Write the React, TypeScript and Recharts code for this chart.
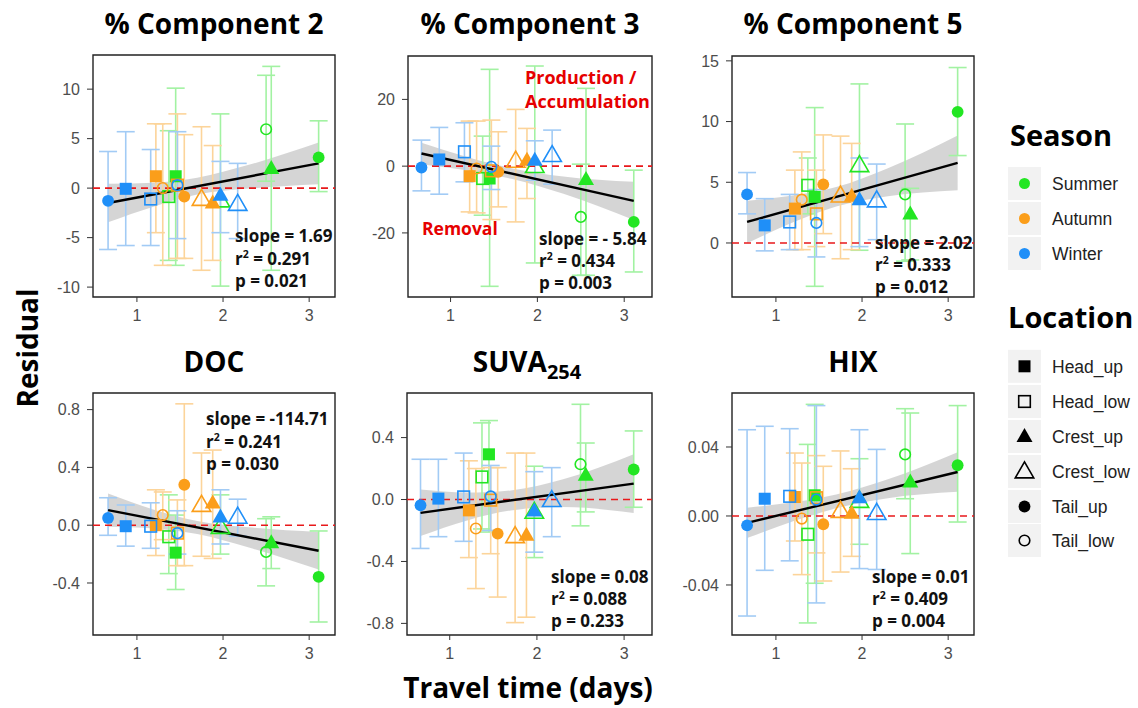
import React from 'react';
import { ComposedChart, Scatter, XAxis, YAxis, ErrorBar, ReferenceLine, ReferenceArea, Area, Line } from 'recharts';

// ---------- categories ----------
const seasons = ['Summer', 'Autumn', 'Winter'];
const locations = ['Head_up', 'Head_low', 'Crest_up', 'Crest_low', 'Tail_up', 'Tail_low'];

// order: Summer (Head_up, Head_low, Crest_up, Crest_low, Tail_up, Tail_low), Autumn (...), Winter (...)
const travelTime = [1.45, 1.37, 2.56, 1.97, 3.11, 2.5, 1.22, 1.47, 1.88, 1.75, 1.55, 1.3, 0.87, 1.16, 1.97, 2.17, 0.665, 1.47];

// ---------- % Component 2 ----------
const comp2Mean = [1.2, -0.85, 2.0, -1.25, 3.1, 5.95, 1.2, 0.3, -1.5, -1.1, -0.85, 0.0, -0.07, -1.1, -0.7, -1.6, -1.28, 0.3];
const comp2Low = [-7.8, -7.3, -8.3, -9.9, -0.35, 0.7, -4.5, -7.1, -7.3, -8.3, -7.1, -7.8, -5.8, -5.8, -4.5, -5.1, -6.2, -5.1];
const comp2High = [10.1, 5.8, 12.3, 7.5, 6.8, 11.4, 6.5, 7.5, 4.3, 6.2, 5.4, 6.5, 5.7, 3.9, 2.7, 2.5, 3.7, 5.7];
const comp2Fit = [-1.5, 2.5];
const comp2BandLo = [-3.45, -1.85, -0.65, -0.05, 0.4];
const comp2BandHi = [0.45, 0.55, 1.05, 2.35, 4.6];

// ---------- % Component 3 ----------
const comp3Mean = [-3.7, -3.7, -4.0, 0, -16.7, -15.2, -3.0, -1.4, 1.8, 1.6, -1.7, -0.7, 2.0, 4.3, 1.8, 3.3, -0.4, -0.2];
const comp3Low = [-36, -14.7, -32.7, -29, -31.7, -32.7, -13.7, -16, -9.7, -16.7, -12.2, -14, -8.4, -4.7, -4.2, -5.4, -7.4, -7];
const comp3High = [29, 9, 23.3, 30, -1.2, 0.6, 13.5, 13.8, 11.3, 17, 10.3, 13.5, 11.6, 13, 7.6, 10.8, 7.8, 6];
const comp3Fit = [3.8, -10.4];
const comp3BandLo = [0.6, -1.3, -3.8, -8.3, -16.1];
const comp3BandHi = [7.0, 2.7, -0.6, -3.1, -4.7];

// ---------- % Component 5 ----------
const comp5Mean = [3.8, 4.75, 2.4, 6.4, 10.8, 4.0, 2.83, 2.4, 3.85, 3.9, 4.83, 3.57, 1.45, 1.73, 3.57, 3.5, 4.0, 1.65];
const comp5Low = [-3.57, 2.4, -1.4, -0.6, 7.2, -1.5, -0.55, -0.3, -0.55, -1.3, 0.77, -0.55, -0.65, -0.55, -0.3, 0.27, 2.4, -1.15];
const comp5High = [11.15, 7.0, 4.5, 13.1, 14.45, 9.8, 6.0, 6.0, 8.2, 8.8, 8.9, 7.5, 3.65, 4.0, 7.0, 6.5, 5.8, 4.4];
const comp5Fit = [1.73, 6.6];
const comp5BandLo = [-0.02, 1.7, 3.0, 3.85, 4.35];
const comp5BandHi = [3.48, 3.9, 4.6, 6.15, 8.85];

// ---------- DOC ----------
const docMean = [-0.19, -0.08, -0.12, -0.012, -0.357, -0.185, 0.0, -0.055, 0.155, 0.14, 0.28, 0.07, -0.007, -0.007, 0.058, 0.058, 0.05, -0.055];
const docLow = [-0.445, -0.335, -0.3, -0.2, -0.67, -0.42, -0.21, -0.28, -0.23, -0.215, -0.28, -0.1, -0.145, -0.16, -0.13, -0.075, -0.07, -0.2];
const docHigh = [0.07, 0.21, 0.058, 0.21, -0.04, 0.045, 0.245, 0.175, 0.52, 0.5, 0.84, 0.23, 0.14, 0.155, 0.245, 0.18, 0.19, 0.1];
const docFit = [0.104, -0.177];
const docBandLo = [-0.011, -0.023, -0.061, -0.155, -0.307];
const docBandHi = [0.219, 0.107, 0.029, -0.015, -0.047];

// ---------- SUVA254 ----------
const suvaMean = [0.292, 0.146, 0.157, -0.08, 0.194, 0.228, -0.07, -0.004, -0.23, -0.237, -0.22, -0.187, 0.006, 0.017, -0.073, -0.004, -0.037, 0.02];
const suvaLow = [-0.21, -0.19, -0.08, -0.375, -0.05, -0.17, -0.375, -0.35, -0.76, -0.795, -0.63, -0.575, -0.24, -0.27, -0.34, -0.24, -0.316, -0.2];
const suvaHigh = [0.51, 0.495, 0.365, 0.215, 0.443, 0.615, 0.25, 0.206, 0.3, 0.3, 0.206, 0.2, 0.26, 0.3, 0.18, 0.206, 0.26, 0.22];
const suvaFit = [-0.086, 0.103];
const suvaBandLo = [-0.236, -0.135, -0.071, -0.049, -0.087];
const suvaBandHi = [0.064, 0.045, 0.059, 0.131, 0.293];

// ---------- HIX ----------
const hixMean = [0.012, -0.0106, 0.0197, 0.0087, 0.0294, 0.0357, 0.011, 0.0106, 0.0017, 0.0029, -0.0048, -0.0015, 0.01, 0.0114, 0.0106, 0.0017, -0.0054, 0.0095];
const hixLow = [-0.039, -0.062, -0.0218, -0.0164, -0.0035, 0.01, -0.0145, -0.0214, -0.0234, -0.0325, -0.0377, -0.034, -0.0315, -0.026, -0.0305, -0.031, -0.058, -0.0504];
const hixHigh = [0.0647, 0.0415, 0.0597, 0.0332, 0.064, 0.0622, 0.0365, 0.035, 0.0274, 0.0377, 0.0288, 0.0307, 0.052, 0.0506, 0.05, 0.0386, 0.05, 0.064];
const hixFit = [-0.004, 0.0255];
const hixBandLo = [-0.0128, -0.0031, 0.0045, 0.0103, 0.014];
const hixBandHi = [0.0048, 0.0079, 0.0125, 0.0213, 0.037];

// shared fit x positions
const fitLineX = [0.665, 3.11];
const fitBandX = [0.665, 1.2, 1.7, 2.3, 3.11];

// tick labels
const xTicks = [1, 2, 3];
const comp2Ticks = [-10, -5, 0, 5, 10];
const comp2TickLabels = ['-10', '-5', '0', '5', '10'];
const comp3Ticks = [-20, 0, 20];
const comp3TickLabels = ['-20', '0', '20'];
const comp5Ticks = [0, 5, 10, 15];
const comp5TickLabels = ['0', '5', '10', '15'];
const docTicks = [-0.4, 0, 0.4, 0.8];
const docTickLabels = ['-0.4', '0.0', '0.4', '0.8'];
const suvaTicks = [-0.8, -0.4, 0, 0.4];
const suvaTickLabels = ['-0.8', '-0.4', '0.0', '0.4'];
const hixTicks = [-0.04, 0, 0.04];
const hixTickLabels = ['-0.04', '0.00', '0.04'];

// statistics text
const comp2Stats = ['1.69', '0.291', '0.021'];
const comp3Stats = ['- 5.84', '0.434', '0.003'];
const comp5Stats = ['2.02', '0.333', '0.012'];
const docStats = ['-114.71', '0.241', '0.030'];
const suvaStats = ['0.08', '0.088', '0.233'];
const hixStats = ['0.01', '0.409', '0.004'];

const seasonColors: Record<string, string> = { Summer: '#22e622', Autumn: '#fb9e1a', Winter: '#1f8ff8' };
const errorColors: Record<string, string> = { Summer: '#a2f2a2', Autumn: '#fcd49a', Winter: '#a2cbf5' };

const FONT_BOLD = "'Open Sans', 'DejaVu Sans', sans-serif";
const FONT_TICK = "'Liberation Sans', Arial, sans-serif";

const YW = 60;
const XH = 32;
const PAD = 2;

function Marker({ cx, cy, loc, color }: { cx?: number; cy?: number; loc: string; color: string }) {
  if (cx == null || cy == null || isNaN(cx) || isNaN(cy)) return <g />;
  const filled = loc.endsWith('_up');
  if (loc.startsWith('Head')) {
    if (filled) return <rect x={cx - 6} y={cy - 6} width={12} height={12} fill={color} />;
    return <rect x={cx - 5.8} y={cy - 5.8} width={11.6} height={11.6} fill="none" stroke={color} strokeWidth={1.6} />;
  }
  if (loc.startsWith('Crest')) {
    const w = filled ? 16 : 18.5;
    const h = filled ? 14 : 16;
    const pts = `${cx},${cy - h * 0.6} ${cx - w / 2},${cy + h * 0.4} ${cx + w / 2},${cy + h * 0.4}`;
    if (filled) return <polygon points={pts} fill={color} />;
    return <polygon points={pts} fill="none" stroke={color} strokeWidth={1.6} strokeLinejoin="miter" />;
  }
  if (filled) return <circle cx={cx} cy={cy} r={5.9} fill={color} />;
  return <circle cx={cx} cy={cy} r={5.3} fill="none" stroke={color} strokeWidth={1.6} />;
}

type PanelCfg = {
  key: string;
  frame: { x: number; y: number; w: number; h: number };
  xDomain: [number, number];
  yDomain: [number, number];
  yTicks: number[];
  yLabels: string[];
  mean: number[];
  low: number[];
  high: number[];
  fit: number[];
  bandLo: number[];
  bandHi: number[];
};

const panels: PanelCfg[] = [
  { key: 'c2', frame: { x: 93, y: 55, w: 242, h: 242 }, xDomain: [0.49, 3.3], yDomain: [-11.0, 13.45], yTicks: comp2Ticks, yLabels: comp2TickLabels, mean: comp2Mean, low: comp2Low, high: comp2High, fit: comp2Fit, bandLo: comp2BandLo, bandHi: comp2BandHi },
  { key: 'c3', frame: { x: 408, y: 56, w: 244, h: 241 }, xDomain: [0.51, 3.32], yDomain: [-39.2, 33], yTicks: comp3Ticks, yLabels: comp3TickLabels, mean: comp3Mean, low: comp3Low, high: comp3High, fit: comp3Fit, bandLo: comp3BandLo, bandHi: comp3BandHi },
  { key: 'c5', frame: { x: 732, y: 56, w: 242, h: 241 }, xDomain: [0.49, 3.3], yDomain: [-4.45, 15.4], yTicks: comp5Ticks, yLabels: comp5TickLabels, mean: comp5Mean, low: comp5Low, high: comp5High, fit: comp5Fit, bandLo: comp5BandLo, bandHi: comp5BandHi },
  { key: 'doc', frame: { x: 93, y: 393, w: 242, h: 242 }, xDomain: [0.49, 3.3], yDomain: [-0.76, 0.915], yTicks: docTicks, yLabels: docTickLabels, mean: docMean, low: docLow, high: docHigh, fit: docFit, bandLo: docBandLo, bandHi: docBandHi },
  { key: 'suva', frame: { x: 407, y: 393, w: 245, h: 242 }, xDomain: [0.51, 3.32], yDomain: [-0.875, 0.688], yTicks: suvaTicks, yLabels: suvaTickLabels, mean: suvaMean, low: suvaLow, high: suvaHigh, fit: suvaFit, bandLo: suvaBandLo, bandHi: suvaBandHi },
  { key: 'hix', frame: { x: 732, y: 393, w: 242, h: 242 }, xDomain: [0.49, 3.3], yDomain: [-0.069, 0.0713], yTicks: hixTicks, yLabels: hixTickLabels, mean: hixMean, low: hixLow, high: hixHigh, fit: hixFit, bandLo: hixBandLo, bandHi: hixBandHi },
];

function Panel({ cfg }: { cfg: PanelCfg }) {
  const series = seasons.flatMap((s, si) =>
    locations.map((l, li) => {
      const i = si * 6 + li;
      return {
        id: `${s}-${l}`,
        season: s,
        loc: l,
        data: [{ x: travelTime[i], y: cfg.mean[i], err: [cfg.mean[i] - cfg.low[i], cfg.high[i] - cfg.mean[i]] }],
      };
    })
  );
  const band = fitBandX.map((x, i) => ({ x, band: [cfg.bandLo[i], cfg.bandHi[i]] }));
  const line = fitLineX.map((x, i) => ({ x, y: cfg.fit[i] }));
  const tickStyle = { fill: '#4d4d4d', fontSize: 16, fontFamily: FONT_TICK };
  return (
    <div style={{ position: 'absolute', left: cfg.frame.x - YW, top: cfg.frame.y - PAD }}>
      <ComposedChart
        width={YW + cfg.frame.w + PAD}
        height={cfg.frame.h + XH + PAD}
        margin={{ top: PAD, right: PAD, bottom: 0, left: 0 }}
      >
        <XAxis
          type="number"
          dataKey="x"
          domain={cfg.xDomain}
          ticks={xTicks}
          allowDataOverflow
          interval={0}
          axisLine={false}
          tickLine={{ stroke: '#333' }}
          tickSize={5}
          tickMargin={8}
          height={XH}
          tick={tickStyle}
        />
        <YAxis
          type="number"
          dataKey="y"
          domain={cfg.yDomain}
          ticks={cfg.yTicks}
          tickFormatter={(v: number) => {
            const k = cfg.yTicks.indexOf(v);
            return k >= 0 ? cfg.yLabels[k] : String(v);
          }}
          allowDataOverflow
          interval={0}
          axisLine={false}
          tickLine={{ stroke: '#333' }}
          tickSize={6}
          tickMargin={7}
          width={YW}
          tick={tickStyle}
        />
        {series.map((s) => (
          <Scatter key={'e-' + s.id} data={s.data} shape={() => <g />} isAnimationActive={false}>
            <ErrorBar dataKey="err" direction="y" width={9} stroke={errorColors[s.season]} strokeWidth={1.6} isAnimationActive={false} />
          </Scatter>
        ))}
        <Area data={band} dataKey="band" type="monotone" stroke="none" fill="#9a9a9a" fillOpacity={0.42} isAnimationActive={false} />
        <ReferenceLine y={0} stroke="#e8191b" strokeWidth={1.6} strokeDasharray="7 5" />
        <Line data={line} dataKey="y" stroke="#000" strokeWidth={2.4} dot={false} isAnimationActive={false} />
        {series.map((s) => (
          <Scatter
            key={'p-' + s.id}
            data={s.data}
            isAnimationActive={false}
            shape={(p: any) => <Marker cx={p.cx} cy={p.cy} loc={s.loc} color={seasonColors[s.season]} />}
          />
        ))}
        <ReferenceArea
          x1={cfg.xDomain[0]}
          x2={cfg.xDomain[1]}
          y1={cfg.yDomain[0]}
          y2={cfg.yDomain[1]}
          fill="none"
          fillOpacity={0}
          stroke="#222"
          strokeWidth={1.4}
          ifOverflow="visible"
        />
      </ComposedChart>
    </div>
  );
}

function Stats({ x, top, gap, vals }: { x: number; top: number; gap: number; vals: string[] }) {
  const b = top + 12.2;
  const st = { fontFamily: FONT_BOLD, fontWeight: 700, fontSize: 17, fill: '#111' } as const;
  return (
    <g>
      <text x={x} y={b} {...st}>{`slope = ${vals[0]}`}</text>
      <text x={x} y={b + gap} {...st}>
        r<tspan fontSize={10.5} dy={-6.5}>2</tspan>
        <tspan dy={6.5}>{` = ${vals[1]}`}</tspan>
      </text>
      <text x={x} y={b + 2 * gap} {...st}>{`p = ${vals[2]}`}</text>
    </g>
  );
}

function LegendSymbol({ cx, cy, loc }: { cx: number; cy: number; loc: string }) {
  return <Marker cx={cx} cy={cy} loc={loc} color="#000" />;
}

export default function App() {
  const titleStyle = { fontFamily: FONT_BOLD, fontWeight: 700, fontSize: 28, fill: '#000' } as const;
  const legendText = { fontFamily: FONT_TICK, fontSize: 17.5, fill: '#222' } as const;
  const seasonRows = [183.5, 218.5, 253.5];
  const locRows = [366.3, 401.5, 436.5, 471.5, 506.5, 540.5];
  return (
    <div style={{ position: 'absolute', left: 0, top: 0, width: 1138, height: 708, background: '#fff', overflow: 'hidden' }}>
      {panels.map((p) => (
        <Panel key={p.key} cfg={p} />
      ))}
      <svg width={1138} height={708} style={{ position: 'absolute', left: 0, top: 0, pointerEvents: 'none' }}>
        {/* titles */}
        <text x={214} y={34} textAnchor="middle" {...titleStyle}>% Component 2</text>
        <text x={530} y={34} textAnchor="middle" {...titleStyle}>% Component 3</text>
        <text x={853} y={34} textAnchor="middle" {...titleStyle}>% Component 5</text>
        <text x={214} y={372} textAnchor="middle" {...titleStyle}>DOC</text>
        <text x={527} y={372} textAnchor="middle" {...titleStyle}>
          SUVA<tspan fontSize={20} dy={7}>254</tspan>
        </text>
        <text x={853} y={372} textAnchor="middle" {...titleStyle}>HIX</text>

        {/* axis titles */}
        <text x={528} y={698} textAnchor="middle" fontFamily={FONT_BOLD} fontWeight={700} fontSize={28} fill="#000">
          Travel time (days)
        </text>
        <text
          x={0}
          y={0}
          transform="translate(38,348) rotate(-90)"
          textAnchor="middle"
          fontFamily={FONT_BOLD}
          fontWeight={700}
          fontSize={28}
          fill="#000"
        >
          Residual
        </text>

        {/* annotations */}
        <text x={525} y={83.5} fontFamily={FONT_BOLD} fontWeight={700} fontSize={18} fill="#e60000">Production /</text>
        <text x={525} y={108.3} fontFamily={FONT_BOLD} fontWeight={700} fontSize={18} fill="#e60000">Accumulation</text>
        <text x={422} y={235} fontFamily={FONT_BOLD} fontWeight={700} fontSize={17.5} fill="#e60000">Removal</text>

        {/* statistics */}
        <Stats x={235} top={230} gap={22.5} vals={comp2Stats} />
        <Stats x={539} top={232.5} gap={22} vals={comp3Stats} />
        <Stats x={875} top={236.7} gap={22} vals={comp5Stats} />
        <Stats x={206} top={413} gap={22.3} vals={docStats} />
        <Stats x={551} top={570.7} gap={22.2} vals={suvaStats} />
        <Stats x={872} top={570.7} gap={22.2} vals={hixStats} />

        {/* legend: Season */}
        <text x={1010} y={146} fontFamily={FONT_BOLD} fontWeight={700} fontSize={29} fill="#000">Season</text>
        {seasons.map((s, i) => (
          <g key={s}>
            <rect x={1008} y={seasonRows[i] - 16.5} width={33} height={33} fill="#f2f2f2" />
            <circle cx={1024.5} cy={seasonRows[i]} r={5.5} fill={seasonColors[s]} />
            <text x={1052} y={seasonRows[i] + 6.3} {...legendText}>{s}</text>
          </g>
        ))}
        {/* legend: Location */}
        <text x={1008} y={328} fontFamily={FONT_BOLD} fontWeight={700} fontSize={29} fill="#000">Location</text>
        {locations.map((l, i) => (
          <g key={l}>
            <rect x={1008} y={locRows[i] - 16.5} width={33} height={33} fill="#f2f2f2" />
            <LegendSymbol cx={1024.5} cy={locRows[i]} loc={l} />
            <text x={1052} y={locRows[i] + 6.3} {...legendText}>{l}</text>
          </g>
        ))}
      </svg>
    </div>
  );
}
